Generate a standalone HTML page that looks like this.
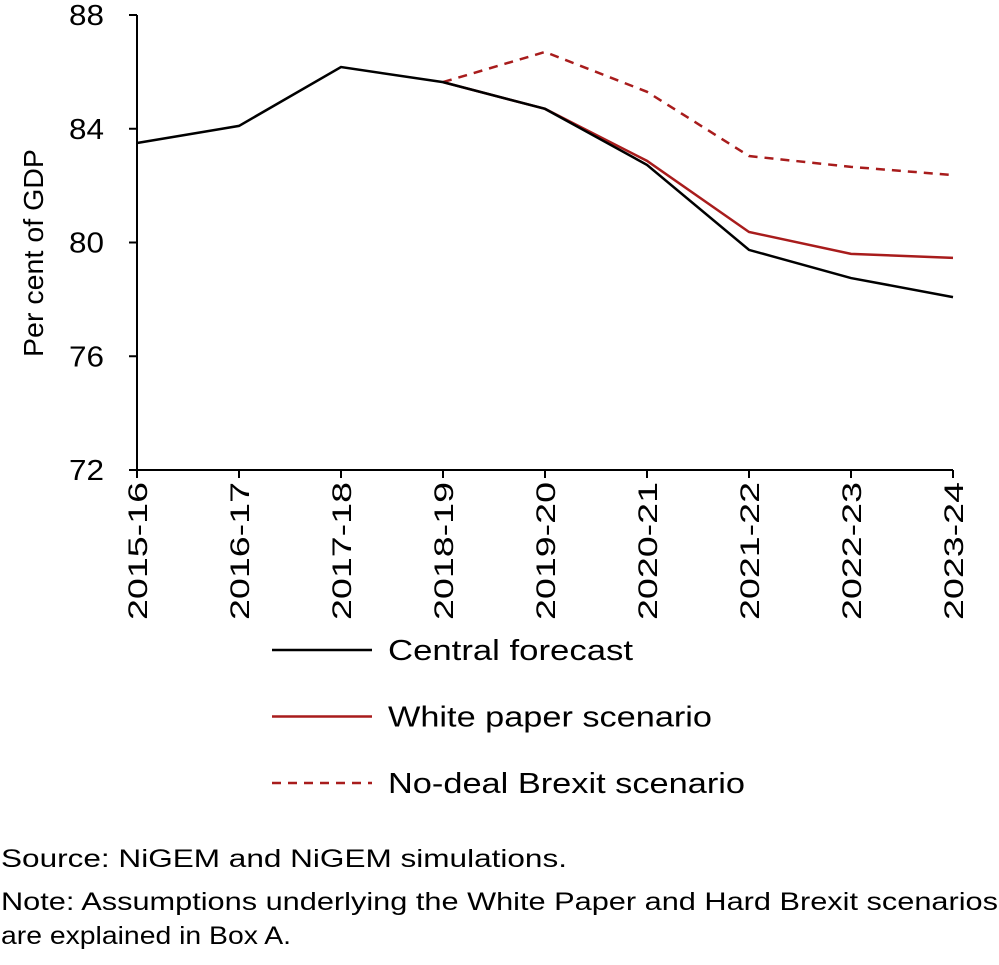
<!DOCTYPE html>
<html><head><meta charset="utf-8"><style>
html,body{margin:0;padding:0;background:#fff;}
body{width:999px;height:960px;overflow:hidden;font-family:"Liberation Sans",sans-serif;}
</style></head><body>
<svg id="chart" width="999" height="960" xmlns="http://www.w3.org/2000/svg" font-family="Liberation Sans, sans-serif"></svg>
<script>
const categories=["2015-16","2016-17","2017-18","2018-19","2019-20","2020-21","2021-22","2022-23","2023-24"];
const centralValues=[83.5,84.1,86.17,85.64,84.7,82.73,79.74,78.75,78.08];
const whiteValues=[null,null,null,85.64,84.7,82.87,80.37,79.6,79.46];
const noDealValues=[null,null,null,85.64,86.7,85.3,83.04,82.66,82.37];
const yTicks=[72,76,80,84,88];
const legendLabels=["Central forecast","White paper scenario","No-deal Brexit scenario"];

const NS="http://www.w3.org/2000/svg";
const svg=document.getElementById('chart');
const x0=137,x1=953,yTop=15,yBot=470,vmin=72,vmax=88;
const RED='#a81c1c';
function xs(i){return x0+(x1-x0)*i/(categories.length-1);}
function ys(v){return yBot-(v-vmin)/(vmax-vmin)*(yBot-yTop);}
function mk(tag,attrs,parent){const e=document.createElementNS(NS,tag);for(const k in attrs)e.setAttribute(k,attrs[k]);(parent||svg).appendChild(e);return e;}

let e=mk('line',{x1:x0,y1:yTop,x2:x0,y2:yBot,stroke:'#000','stroke-width':2});


e=mk('line',{x1:x0,y1:yBot,x2:x1,y2:yBot,stroke:'#000','stroke-width':2});


yTicks.forEach(t=>{
  mk('line',{x1:x0-8,y1:ys(t),x2:x0,y2:ys(t),stroke:'#000','stroke-width':2});
  const tx=mk('text',{x:104,y:ys(t)+10,'text-anchor':'end','font-size':29,textLength:35,lengthAdjust:'spacingAndGlyphs'});
  tx.textContent=t;
  
  
});
categories.forEach((c,i)=>{
  mk('line',{x1:xs(i),y1:yBot,x2:xs(i),y2:yBot+8,stroke:'#000','stroke-width':2});
  const tx=mk('text',{x:0,y:0,'text-anchor':'end','font-size':27,textLength:138,lengthAdjust:'spacingAndGlyphs',transform:`translate(${xs(i)+10},${yBot+12}) rotate(-90)`});
  tx.textContent=c;
  
  
});
const yt=mk('text',{x:0,y:0,'text-anchor':'middle','font-size':28,textLength:208,lengthAdjust:'spacingAndGlyphs',transform:`translate(43,253) rotate(-90)`});
yt.textContent="Per cent of GDP";



function series(vals,color,dash,name){
  const pts=[];vals.forEach((v,i)=>{if(v!==null)pts.push(xs(i)+','+ys(v));});
  const p=mk('polyline',{points:pts.join(' '),fill:'none',stroke:color,'stroke-width':2.5,'stroke-dasharray':dash||'none'});
  
  
}
series(noDealValues,RED,'9,7','no-deal-line');
series(whiteValues,RED,null,'white-paper-line');
series(centralValues,'#000',null,'central-line');

const lstyles=[['#000',null],[RED,null],[RED,'9,7']];
const lnames=['legend-central','legend-white-paper','legend-no-deal'];
const lwidths=[245,324,357];
legendLabels.forEach((l,i)=>{
  const y=650+i*66.5;
  const g=mk('g',{});
  
  
  mk('line',{x1:272,y1:y,x2:372,y2:y,stroke:lstyles[i][0],'stroke-width':2.5,'stroke-dasharray':lstyles[i][1]||'none'},g);
  const t=mk('text',{x:388,y:y+10,'font-size':29,textLength:lwidths[i],lengthAdjust:'spacingAndGlyphs'},g);t.textContent=l;
});

const notes=[["Source: NiGEM and NiGEM simulations.",867,'source-note',566],["Note: Assumptions underlying the White Paper and Hard Brexit scenarios",910,'note-line-1',997],["are explained in Box A.",944,'note-line-2',290]];
notes.forEach(n=>{
  const t=mk('text',{x:1,y:n[1],'font-size':25,textLength:n[3],lengthAdjust:'spacingAndGlyphs'});
  t.textContent=n[0];
  
  
});
</script>
</body></html>
